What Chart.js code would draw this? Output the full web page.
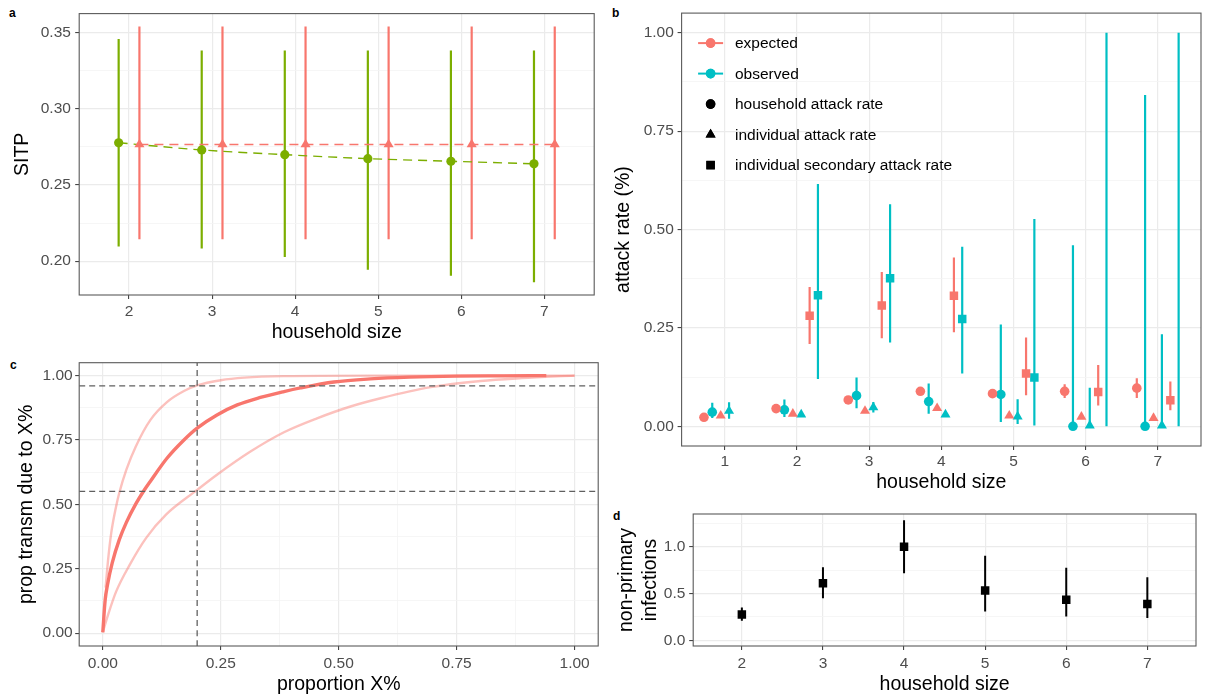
<!DOCTYPE html>
<html>
<head>
<meta charset="utf-8">
<script src="https://cdn.jsdelivr.net/npm/chart.js@4.4.1/dist/chart.umd.min.js"></script>
<style>
  html, body { margin: 0; padding: 0; background: #fff; }
  body { width: 1209px; height: 697px; position: relative; overflow: hidden; font-family: 'Liberation Sans', Arial, sans-serif; }
  .panel { position: absolute; }
  .tag { position: absolute; font-weight: bold; font-size: 12px; color: #000; }
</style>
</head>
<body>
<div class="tag" style="left:9px;top:6px">a</div>
<div class="tag" style="left:612px;top:6px">b</div>
<div class="tag" style="left:10px;top:358px">c</div>
<div class="tag" style="left:613px;top:509px">d</div>
<div class="panel" style="left:0;top:0;width:600px;height:350px"><canvas id="chartA"></canvas></div>
<div class="panel" style="left:600px;top:0;width:609px;height:500px"><canvas id="chartB"></canvas></div>
<div class="panel" style="left:0;top:350px;width:600px;height:347px"><canvas id="chartC"></canvas></div>
<div class="panel" style="left:600px;top:500px;width:609px;height:197px"><canvas id="chartD"></canvas></div>
<script>
// ---- panel a: SITP by household size ----
const SIZES_A = [2, 3, 4, 5, 6, 7];
const SITP_VAR = [0.2776, 0.2729, 0.2698, 0.2672, 0.2655, 0.2638];
const SITP_VAR_LO = [0.2096, 0.2083, 0.2027, 0.1944, 0.1905, 0.1862];
const SITP_VAR_HI = [0.3457, 0.3381, 0.3381, 0.3381, 0.3381, 0.3381];
const SITP_CONST = [0.2765, 0.2765, 0.2765, 0.2765, 0.2765, 0.2765];
const SITP_CONST_LO = [0.2144, 0.2144, 0.2144, 0.2144, 0.2144, 0.2144];
const SITP_CONST_HI = [0.3539, 0.3539, 0.3539, 0.3539, 0.3539, 0.3539];

// ---- panel b: attack rates ----
const SIZES_B = [1, 2, 3, 4, 5, 6, 7];
const HAR_EXP = [0.023, 0.045, 0.067, 0.089, 0.083, 0.089, 0.097];
const HAR_EXP_LO = [null, null, null, null, 0.072, 0.072, 0.072];
const HAR_EXP_HI = [null, null, null, null, 0.093, 0.107, 0.122];
const HAR_OBS = [0.036, 0.042, 0.078, 0.063, 0.081, 0, 0];
const HAR_OBS_LO = [0.021, 0.024, 0.046, 0.032, 0.011, 0, 0];
const HAR_OBS_HI = [0.060, 0.068, 0.124, 0.109, 0.259, 0.46, 0.842];
const IAR_EXP = [0.027, 0.032, 0.039, 0.046, 0.027, 0.024, 0.021];
const IAR_OBS = [0.039, 0.030, 0.048, 0.030, 0.025, 0.002, 0.002];
const IAR_OBS_LO = [0.019, null, 0.035, null, 0.006, 0, 0];
const IAR_OBS_HI = [0.061, null, 0.062, null, 0.069, 0.098, 0.234];
const SAR_EXP = [null, 0.281, 0.307, 0.332, 0.134, 0.087, 0.066];
const SAR_EXP_LO = [null, 0.209, 0.224, 0.239, 0.079, 0.053, 0.041];
const SAR_EXP_HI = [null, 0.354, 0.392, 0.429, 0.226, 0.156, 0.114];
const SAR_OBS = [null, 0.333, 0.376, 0.273, 0.124, null, null];
const SAR_OBS_LO = [null, 0.120, 0.213, 0.134, 0.002, 0, 0];
const SAR_OBS_HI = [null, 0.616, 0.564, 0.456, 0.527, 1.0, 1.0];
const LEGEND_B = ['expected', 'observed', 'household attack rate', 'individual attack rate', 'individual secondary attack rate'];

// ---- panel c: proportion of transmission due to top X% ----
const MID_X = [0, 0.005, 0.01, 0.02, 0.035, 0.05, 0.07, 0.086, 0.101, 0.136, 0.172, 0.2, 0.242, 0.285, 0.334, 0.384, 0.419, 0.49, 0.567, 0.65, 0.75, 0.85, 0.94];
const MID_Y = [0.003, 0.128, 0.188, 0.273, 0.363, 0.43, 0.502, 0.55, 0.59, 0.679, 0.75, 0.796, 0.847, 0.886, 0.915, 0.938, 0.952, 0.975, 0.987, 0.994, 0.998, 0.999, 1.0];
const UPPER_X = [0.006, 0.011, 0.018, 0.028, 0.035, 0.05, 0.07, 0.101, 0.136, 0.172, 0.2, 0.25, 0.3, 0.384, 0.567, 1.0];
const UPPER_Y = [0.177, 0.28, 0.39, 0.49, 0.545, 0.635, 0.725, 0.828, 0.897, 0.94, 0.962, 0.982, 0.992, 0.998, 1.0, 1.0];
const LOWER_X = [0, 0.011, 0.028, 0.057, 0.092, 0.134, 0.2, 0.242, 0.313, 0.384, 0.454, 0.525, 0.589, 0.695, 0.801, 0.888, 1.0];
const LOWER_Y = [0.004, 0.07, 0.16, 0.265, 0.37, 0.46, 0.556, 0.615, 0.705, 0.78, 0.834, 0.88, 0.912, 0.955, 0.979, 0.99, 1.0];
const REF_X = [0.2];
const REF_Y = [0.96, 0.55];

// ---- panel d: non-primary infections ----
const SIZES_D = [2, 3, 4, 5, 6, 7];
const NPI = [0.277, 0.61, 1.0, 0.532, 0.433, 0.389];
const NPI_LO = [0.209, 0.45, 0.716, 0.309, 0.255, 0.24];
const NPI_HI = [0.351, 0.78, 1.284, 0.904, 0.777, 0.675];

const FONT = "'Liberation Sans', Arial, sans-serif";
const RED = '#F8766D', CYAN = '#00BFC4', GREEN = '#7CAE00';
const PINK = 'rgba(248,118,109,0.45)';

const dodge = (xs, off) => xs.map(x => x + off);
const pts = (xs, ys) => xs.map((x, i) => ({ x, y: ys[i] }));
function segs(xs, lo, hi) {
  const out = [];
  xs.forEach((x, i) => {
    if (lo[i] == null) return;
    out.push({ x, y: lo[i] }, { x, y: hi[i] }, { x, y: null });
  });
  return out;
}

function points(data, color, style, radius) {
  return { data, pointStyle: style, pointRadius: radius, pointBackgroundColor: color,
    pointBorderColor: color, pointBorderWidth: 0, showLine: false };
}
function bars(data, color, width = 2.2) {
  return { data, showLine: true, spanGaps: false, pointRadius: 0, borderColor: color,
    borderWidth: width, borderCapStyle: 'butt' };
}
function curve(data, color, width, dash) {
  return { data, showLine: true, pointRadius: 0, borderColor: color, borderWidth: width,
    borderDash: dash || [], cubicInterpolationMode: 'monotone', borderCapStyle: 'butt' };
}

function makeScale(o) {
  const all = o.majors.map(v => ({ value: v }))
    .concat((o.minors || []).map(v => ({ value: v, minor: true })))
    .sort((a, b) => a.value - b.value);
  const isMinor = c => c.tick && c.tick.minor;
  return {
    type: 'linear', min: o.min, max: o.max,
    afterBuildTicks: ax => { ax.ticks = all.map(t => ({ ...t })); },
    afterFit: ax => { if (ax.isHorizontal()) ax.height = o.size; else ax.width = o.size; },
    grid: {
      color: c => isMinor(c) ? '#F4F4F4' : '#EBEBEB',
      lineWidth: c => isMinor(c) ? 0.8 : 1.2,
      tickColor: c => isMinor(c) ? 'rgba(0,0,0,0)' : '#333',
      tickLength: 4, tickWidth: 1, drawTicks: true,
    },
    border: { display: false },
    ticks: {
      autoSkip: false, maxRotation: 0, minRotation: 0, padding: o.tickPad, color: '#4D4D4D',
      font: { family: FONT, size: 15.5 },
      callback: (v, i, ticks) => ticks[i].minor ? '' : o.fmt(v),
    },
    title: {
      display: true, text: o.title, color: '#000',
      font: { family: FONT, size: 19.5, lineHeight: 1.2 },
      padding: { top: o.titlePad, bottom: o.titlePad },
    },
  };
}

const framePlugin = {
  id: 'frame',
  afterDraw(chart) {
    const { ctx, chartArea: a } = chart;
    ctx.save();
    ctx.strokeStyle = '#5a5a5a';
    ctx.lineWidth = 1.1;
    ctx.strokeRect(a.left, a.top, a.right - a.left, a.bottom - a.top);
    ctx.restore();
  },
};

function baseOptions(padding, scales) {
  return {
    responsive: true, maintainAspectRatio: false, animation: false, devicePixelRatio: 1,
    events: [], layout: { padding }, scales,
    plugins: { legend: { display: false }, tooltip: { enabled: false } },
  };
}

const fix2 = v => v.toFixed(2);
const fix1 = v => v.toFixed(1);
const int = v => String(Math.round(v));

// ---------- panel a ----------
const xa = dodge(SIZES_A, -0.125), xr = dodge(SIZES_A, 0.125);
new Chart(document.getElementById('chartA'), {
  type: 'scatter',
  data: { datasets: [
    points(pts(xa, SITP_VAR), GREEN, 'circle', 4.6),
    points(pts(xr, SITP_CONST), RED, 'triangle', 5.8),
    curve(pts(xa, SITP_VAR), GREEN, 1.4, [9, 6]),
    curve(pts(xr, SITP_CONST), RED, 1.4, [9, 6]),
    bars(segs(xa, SITP_VAR_LO, SITP_VAR_HI), GREEN),
    bars(segs(xr, SITP_CONST_LO, SITP_CONST_HI), RED),
  ] },
  options: baseOptions({ top: 12, right: 2, left: 0, bottom: 0 }, {
    x: makeScale({ min: 1.4, max: 7.6, majors: SIZES_A, fmt: int, title: 'household size',
      size: 55, tickPad: 3.4, titlePad: 5.3 }),
    y: makeScale({ min: 0.1778, max: 0.3623, majors: [0.20, 0.25, 0.30, 0.35],
      minors: [0.225, 0.275, 0.325], fmt: fix2, title: 'SITP', size: 79.2, tickPad: 4.3, titlePad: 11.3 }),
  }),
  plugins: [framePlugin],
});

// ---------- panel b ----------
const legendPlugin = {
  id: 'legendB',
  afterDatasetsDraw(chart) {
    const { ctx, chartArea: a } = chart;
    const keys = [
      { color: RED, style: 'circle', r: 4.8, line: true },
      { color: CYAN, style: 'circle', r: 4.8, line: true },
      { color: '#000', style: 'circle', r: 4.8 },
      { color: '#000', style: 'triangle', r: 5.8 },
      { color: '#000', style: 'rect', r: 6 },
    ];
    ctx.save();
    ctx.font = `15.5px ${FONT}`;
    ctx.textBaseline = 'middle';
    LEGEND_B.forEach((label, i) => {
      const k = keys[i];
      const x = a.left + 29, y = a.top + 30 + i * 30.5;
      if (k.line) {
        ctx.strokeStyle = k.color; ctx.lineWidth = 2;
        ctx.beginPath(); ctx.moveTo(x - 12.5, y); ctx.lineTo(x + 12.5, y); ctx.stroke();
      }
      ctx.fillStyle = k.color;
      Chart.helpers.drawPoint(ctx, { pointStyle: k.style, radius: k.r, rotation: 0, borderWidth: 0 }, x, y);
      ctx.fill();
      ctx.fillStyle = '#000';
      ctx.fillText(label, a.left + 53.4, y + 1);
    });
    ctx.restore();
  },
};

const off = [-0.29, -0.175, -0.058, 0.058, 0.175, 0.29];
const bx = off.map(o => dodge(SIZES_B, o));
new Chart(document.getElementById('chartB'), {
  type: 'scatter',
  data: { datasets: [
    points(pts(bx[0], HAR_EXP), RED, 'circle', 4.8),
    points(pts(bx[1], HAR_OBS), CYAN, 'circle', 4.8),
    points(pts(bx[2], IAR_EXP), RED, 'triangle', 5.8),
    points(pts(bx[3], IAR_OBS), CYAN, 'triangle', 5.8),
    points(pts(bx[4], SAR_EXP), RED, 'rect', 6),
    points(pts(bx[5], SAR_OBS), CYAN, 'rect', 6),
    bars(segs(bx[0], HAR_EXP_LO, HAR_EXP_HI), RED),
    bars(segs(bx[1], HAR_OBS_LO, HAR_OBS_HI), CYAN),
    bars(segs(bx[3], IAR_OBS_LO, IAR_OBS_HI), CYAN),
    bars(segs(bx[4], SAR_EXP_LO, SAR_EXP_HI), RED),
    bars(segs(bx[5], SAR_OBS_LO, SAR_OBS_HI), CYAN),
  ] },
  options: baseOptions({ top: 12, right: 8, left: 0, bottom: 0 }, {
    x: makeScale({ min: 0.4, max: 7.6, majors: SIZES_B, fmt: int, title: 'household size',
      size: 54, tickPad: 2.4, titlePad: 5.3 }),
    y: makeScale({ min: -0.05, max: 1.05, majors: [0, 0.25, 0.5, 0.75, 1],
      minors: [0.125, 0.375, 0.625, 0.875], fmt: fix2, title: 'attack rate (%)',
      size: 81.6, tickPad: 3.8, titlePad: 12.3 }),
  }),
  plugins: [framePlugin, legendPlugin],
});

// ---------- panel c ----------
const DASH_GREY = '#5f5f5f';
new Chart(document.getElementById('chartC'), {
  type: 'scatter',
  data: { datasets: [
    curve(REF_Y.flatMap(y => [{ x: -0.05, y }, { x: 1.05, y }, { x: 1.05, y: null }]), DASH_GREY, 1.3, [6, 4]),
    curve(REF_X.flatMap(x => [{ x, y: -0.05 }, { x, y: 1.05 }]), DASH_GREY, 1.3, [6, 4]),
    curve(pts(MID_X, MID_Y), RED, 3.4),
    curve(pts(UPPER_X, UPPER_Y), PINK, 2.4),
    curve(pts(LOWER_X, LOWER_Y), PINK, 2.4),
  ] },
  options: baseOptions({ top: 12.7, right: 1.8, left: 0, bottom: 0 }, {
    x: makeScale({ min: -0.05, max: 1.05, majors: [0, 0.25, 0.5, 0.75, 1],
      minors: [0.125, 0.375, 0.625, 0.875], fmt: fix2, title: 'proportion X%',
      size: 51, tickPad: 4, titlePad: 0.3 }),
    y: makeScale({ min: -0.05, max: 1.05, majors: [0, 0.25, 0.5, 0.75, 1],
      minors: [0.125, 0.375, 0.625, 0.875], fmt: fix2, title: 'prop transm due to X%',
      size: 79.2, tickPad: 2.5, titlePad: 15.1 }),
  }),
  plugins: [framePlugin],
});

// ---------- panel d ----------
new Chart(document.getElementById('chartD'), {
  type: 'scatter',
  data: { datasets: [
    points(pts(SIZES_D, NPI), '#000', 'rect', 6),
    bars(segs(SIZES_D, NPI_LO, NPI_HI), '#000', 2),
  ] },
  options: baseOptions({ top: 14, right: 13, left: 0, bottom: 0 }, {
    x: makeScale({ min: 1.4, max: 7.6, majors: SIZES_D, fmt: int, title: 'household size',
      size: 51, tickPad: 4.7, titlePad: 0.3 }),
    y: makeScale({ min: -0.06, max: 1.35, majors: [0, 0.5, 1.0], minors: [0.25, 0.75, 1.25],
      fmt: fix1, title: ['non-primary', 'infections'], size: 93.2, tickPad: 3.8, titlePad: 15.3 }),
  }),
  plugins: [framePlugin],
});
</script>
</body>
</html>
